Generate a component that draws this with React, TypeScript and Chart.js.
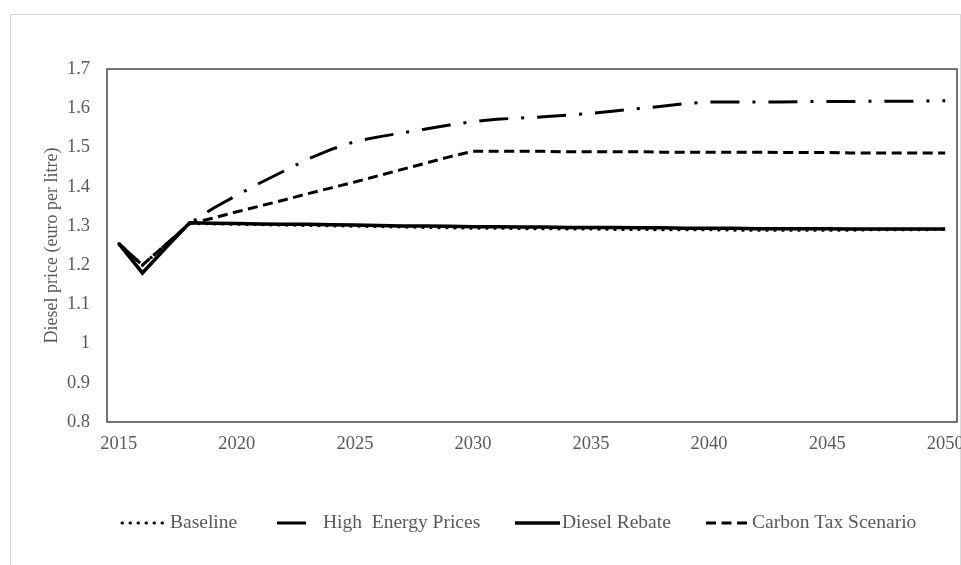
import { useEffect, useRef } from 'react'
import { Chart, registerables } from 'chart.js'
import type { Plugin } from 'chart.js'

Chart.register(...registerables)

const YEARS = [
  2015, 2016, 2017, 2018, 2019, 2020, 2021, 2022, 2023, 2024, 2025, 2026,
  2027, 2028, 2029, 2030, 2031, 2032, 2033, 2034, 2035, 2036, 2037, 2038,
  2039, 2040, 2041, 2042, 2043, 2044, 2045, 2046, 2047, 2048, 2049, 2050,
]

const BASELINE = [
  1.255, 1.2, 1.253, 1.306, 1.305, 1.304, 1.303, 1.302, 1.301, 1.3, 1.299, 1.298,
  1.297, 1.296, 1.295, 1.294, 1.294, 1.293, 1.293, 1.292, 1.292, 1.291, 1.291, 1.29,
  1.29, 1.29, 1.289, 1.289, 1.289, 1.289, 1.289, 1.289, 1.29, 1.29, 1.29, 1.291,
]

const HIGH_ENERGY = [
  1.255, 1.2, 1.253, 1.306, 1.345, 1.378, 1.41, 1.44, 1.47, 1.495, 1.515, 1.527,
  1.537, 1.547, 1.557, 1.566, 1.572, 1.575, 1.578, 1.582, 1.587, 1.593, 1.599, 1.605,
  1.612, 1.616, 1.616, 1.616, 1.616, 1.617, 1.617, 1.617, 1.618, 1.618, 1.618, 1.619,
]

const DIESEL_REBATE = [
  1.255, 1.18, 1.245, 1.308, 1.307, 1.306, 1.305, 1.304, 1.304, 1.303, 1.302, 1.301,
  1.3, 1.3, 1.299, 1.298, 1.298, 1.297, 1.297, 1.296, 1.296, 1.296, 1.295, 1.295,
  1.294, 1.294, 1.294, 1.293, 1.293, 1.293, 1.293, 1.292, 1.292, 1.292, 1.292, 1.292,
]

const CARBON_TAX = [
  1.255, 1.2, 1.253, 1.306, 1.32, 1.336, 1.351, 1.366, 1.382, 1.397, 1.412, 1.428,
  1.444, 1.46, 1.476, 1.49, 1.49, 1.49, 1.49, 1.489, 1.489, 1.489, 1.489, 1.488,
  1.488, 1.488, 1.488, 1.488, 1.487, 1.487, 1.487, 1.486, 1.486, 1.486, 1.486, 1.486,
]

const TEXT = '#595959'
const FONT = "'Liberation Serif', 'Times New Roman', serif"

// legend layout (excel spaces the items unevenly)
const LEGEND_Y = 523
const LEGEND_SYMBOL_X = [122, 277, 515, 706]
const LEGEND_SYMBOL_W = [43, 30, 45, 42]
const LEGEND_TEXT_X = [170, 323, 562, 752]

// box round the plot area
const plotBorder: Plugin<'line'> = {
  id: 'plotBorder',
  afterDatasetsDraw(chart) {
    const { ctx, chartArea: a } = chart
    ctx.save()
    ctx.strokeStyle = '#1a1a1a'
    ctx.lineWidth = 1.2
    ctx.setLineDash([])
    ctx.strokeRect(a.left, a.top, a.right - a.left, a.bottom - a.top)
    ctx.restore()
  },
}

// legend drawn by hand so the samples keep the dash patterns
const lineLegend: Plugin<'line'> = {
  id: 'lineLegend',
  afterDraw(chart) {
    const { ctx } = chart
    chart.data.datasets.forEach((ds, i) => {
      const x0 = LEGEND_SYMBOL_X[i]
      ctx.save()
      ctx.strokeStyle = ds.borderColor as string
      ctx.lineWidth = ds.borderWidth as number
      ctx.setLineDash((ds.borderDash as number[]) ?? [])
      ctx.lineCap = ((ds.borderCapStyle as CanvasLineCap) ?? 'butt')
      ctx.beginPath()
      ctx.moveTo(x0, LEGEND_Y)
      ctx.lineTo(x0 + LEGEND_SYMBOL_W[i], LEGEND_Y)
      ctx.stroke()
      ctx.setLineDash([])
      ctx.fillStyle = TEXT
      ctx.font = `19.5px ${FONT}`
      ctx.textAlign = 'left'
      ctx.textBaseline = 'middle'
      ctx.fillText(ds.label ?? '', LEGEND_TEXT_X[i], LEGEND_Y)
      ctx.restore()
    })
  },
}

export default function App() {
  const canvasRef = useRef<HTMLCanvasElement>(null)
  const chartRef = useRef<Chart<'line'> | null>(null)

  useEffect(() => {
    chartRef.current?.destroy()
    if (!canvasRef.current) return

    chartRef.current = new Chart(canvasRef.current, {
      type: 'line',
      data: {
        labels: YEARS.map(String),
        datasets: [
          {
            label: 'Baseline',
            data: BASELINE,
            borderColor: '#000',
            borderWidth: 3,
            borderDash: [0.5, 7.5],
            borderCapStyle: 'round',
          },
          {
            label: 'High  Energy Prices',
            data: HIGH_ENERGY,
            borderColor: '#000',
            borderWidth: 3,
            borderDash: [29, 13, 3, 13],
          },
          {
            label: 'Diesel Rebate',
            data: DIESEL_REBATE,
            borderColor: '#000',
            borderWidth: 3.5,
          },
          {
            label: 'Carbon Tax Scenario',
            data: CARBON_TAX,
            borderColor: '#000',
            borderWidth: 3,
            borderDash: [10, 5.5],
          },
        ],
      },
      options: {
        responsive: false,
        animation: false,
        elements: {
          point: { radius: 0, hoverRadius: 0 },
          line: { tension: 0, fill: false },
        },
        layout: { padding: { left: 0, top: 69, right: 23, bottom: 103 } },
        plugins: {
          legend: { display: false },
          tooltip: { enabled: false },
        },
        scales: {
          x: {
            type: 'category',
            offset: true,
            grid: { display: false, drawTicks: false },
            border: { display: false },
            afterFit: (s) => {
              s.height = 40
            },
            ticks: {
              autoSkip: false,
              maxRotation: 0,
              padding: 11,
              color: TEXT,
              font: { family: FONT, size: 18.5 },
              callback: (_v, i) => (YEARS[i] % 5 === 0 ? String(YEARS[i]) : ''),
            },
          },
          y: {
            min: 0.8,
            max: 1.7,
            grid: { display: false, drawTicks: false },
            border: { display: false },
            afterFit: (s) => {
              s.width = 107
            },
            ticks: {
              stepSize: 0.1,
              padding: 17,
              color: TEXT,
              font: { family: FONT, size: 18.5 },
              callback: (v) => String(Number(Number(v).toFixed(1))),
            },
            title: {
              display: true,
              text: 'Diesel price (euro per litre)',
              color: TEXT,
              font: { family: FONT, size: 18 },
              padding: { top: 41, bottom: 0 },
            },
          },
        },
      },
      plugins: [plotBorder, lineLegend],
    })

    return () => {
      chartRef.current?.destroy()
      chartRef.current = null
    }
  }, [])

  return (
    <div
      style={{
        position: 'absolute',
        left: 0,
        top: 0,
        width: 961,
        height: 565,
        overflow: 'hidden',
        background: '#fff',
      }}
    >
      <div
        style={{
          position: 'absolute',
          left: 10,
          top: 14,
          width: 949,
          height: 600,
          border: '1px solid #d9d9d9',
        }}
      />
      <canvas
        ref={canvasRef}
        width={980}
        height={565}
        style={{ position: 'absolute', left: 0, top: 0 }}
      />
    </div>
  )
}
